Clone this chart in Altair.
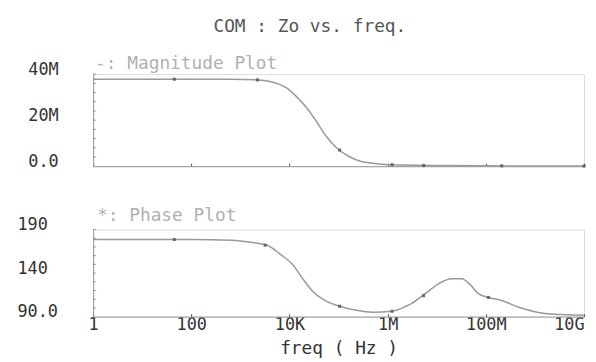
import altair as alt
import pandas as pd

# ---- data ----
mag_freq = [1, 100, 630, 2230, 4650, 8900, 14200, 22500, 36000, 57000, 91000,
            166000, 303000, 585000, 1.23e6, 1e7, 1e8, 1e9, 1e10]
mag_value = [37.8e6, 37.8e6, 37.8e6, 37.5e6, 36.5e6, 33.9e6, 30.0e6, 25.3e6, 19.2e6,
             12.8e6, 8.0e6, 4.1e6, 1.9e6, 1.1e6, 0.6e6, 0.3e6, 0.15e6, 0.08e6, 0.05e6]
mag_marker_freq = [45, 2230, 105000, 1.23e6, 5.4e6, 2.1e8, 1e10]
mag_marker_value = [37.8e6, 37.5e6, 7.0e6, 0.6e6, 0.3e6, 0.15e6, 0.05e6]

ph_freq = [1, 100, 630, 2230, 3550, 6450, 11800, 18700, 30000, 57000, 105000,
           230000, 490000, 1.23e6, 2.35e6, 3.1e6, 5.9e6, 1.1e7, 2.0e7, 3.2e7,
           4.8e7, 6.9e7, 1.13e8, 2.1e8, 4.7e8, 1.1e9, 2.45e9, 1e10]
ph_value = [178.5, 178.5, 177.8, 174.2, 171.9, 161.8, 149.3, 133.5, 118.8, 107.5,
            101.9, 97.3, 95.1, 96.2, 101.9, 105.3, 116.6, 127.9, 133.5, 133.5,
            126.7, 116.6, 112.0, 108.6, 100.7, 95.1, 92.8, 91.7]
ph_marker_freq = [45, 3200, 105000, 1.23e6, 5.4e6, 1.13e8]
ph_marker_value = [178.5, 172.0, 101.9, 96.2, 114.0, 112.0]

x_ticks = [1, 100, 1e4, 1e6, 1e8, 1e10]
x_labels = ["1", "100", "10K", "1M", "100M", "10G"]
mag_ticks = [0, 20e6, 40e6]
mag_labels = ["0.0", "20M", "40M"]
mag_minor = [4e6, 8e6, 12e6, 16e6, 20e6, 24e6, 28e6, 32e6, 36e6, 40e6]
ph_ticks = [90, 140, 190]
ph_labels = ["90.0", "140", "190"]
ph_minor = [100, 110, 120, 130, 140, 150, 160, 170, 180, 190]

FONT = "DejaVu Sans Mono"
W = 496
INWARD = alt.ExprRef(expr="-3")


def label_expr(vals, labels):
    parts = [f"datum.value == {v} ? '{l}'" for v, l in zip(vals, labels)]
    return " : ".join(parts) + " : ''"


def panel(freq, val, mfreq, mval, ydom, yt, yl, yminor, title, h, bottom, lpad, toff, tdx):
    df = pd.DataFrame({"f": freq, "v": val})
    dm = pd.DataFrame({"f": mfreq, "v": mval})
    dt = pd.DataFrame({"v": yminor})
    xs = alt.Scale(type="log", domain=[1, 1e10], nice=False)
    ys = alt.Scale(domain=ydom, nice=False, zero=False)
    if bottom:
        xaxis = alt.Axis(values=x_ticks, labelExpr=label_expr(x_ticks, x_labels),
                         title="freq ( Hz )", tickSize=INWARD, tickColor="#555",
                         grid=False, labelFontSize=17, labelColor="#333", labelFont=FONT,
                         labelPadding=3, titleFont=FONT, titleFontSize=18,
                         titleFontWeight="normal", titleColor="#333", titlePadding=7,
                         domainColor="#999", labelOverlap=False,
                         labelAlign=alt.condition("datum.value >= 1e10",
                                                  alt.value("right"), alt.value("center")))
    else:
        xaxis = alt.Axis(values=x_ticks, labels=False, tickSize=INWARD, tickColor="#555",
                         grid=False, title=None, domainColor="#999")
    line = alt.Chart(df).mark_line(interpolate="monotone", color="#999",
                                   strokeWidth=1.5).encode(
        x=alt.X("f:Q", scale=xs, axis=xaxis),
        y=alt.Y("v:Q", scale=ys, axis=alt.Axis(
            values=yt, labelExpr=label_expr(yt, yl), ticks=False,
            grid=False, title=None, labelFontSize=17,
            labelColor="#333", labelFont=FONT, labelAlign="left",
            labelBaseline="alphabetic", labelPadding=lpad, labelOverlap=False,
            domain=True, domainColor="#999", domainWidth=1)),
    )
    minor = alt.Chart(dt).mark_tick(orient="horizontal", color="#777", thickness=1,
                                    size=3).encode(
        y=alt.Y("v:Q", scale=ys),
        x=alt.value(1.5),
    )
    marks = alt.Chart(dm).mark_point(shape="square", filled=True, size=10,
                                     color="#555", opacity=0.8).encode(
        x=alt.X("f:Q", scale=xs),
        y=alt.Y("v:Q", scale=ys),
    )
    return alt.layer(line, minor, marks).properties(
        width=W, height=h,
        title=alt.TitleParams(title, anchor="start", color="#b0b0b0", fontSize=18,
                              font=FONT, fontWeight="normal", offset=toff, dx=tdx),
    )


top = panel(mag_freq, mag_value, mag_marker_freq, mag_marker_value, [0, 40e6],
            mag_ticks, mag_labels, mag_minor, "-: Magnitude Plot", 93, False, 66, -13, 68)
bot = panel(ph_freq, ph_value, ph_marker_freq, ph_marker_value, [90, 190],
            ph_ticks, ph_labels, ph_minor, "*: Phase Plot", 88, True, 77, -9, 81)

chart = alt.vconcat(top, bot, spacing=36).properties(
    title=alt.TitleParams("COM : Zo vs. freq.", anchor="middle", color="#555",
                          fontSize=18, font=FONT, fontWeight="normal", offset=19, dx=8),
    padding={"left": 8, "top": 8, "right": 0, "bottom": 0},
).configure_view(stroke=None).configure(background="white")

chart.save("out.html", embed_options={"renderer": "svg", "actions": False})
